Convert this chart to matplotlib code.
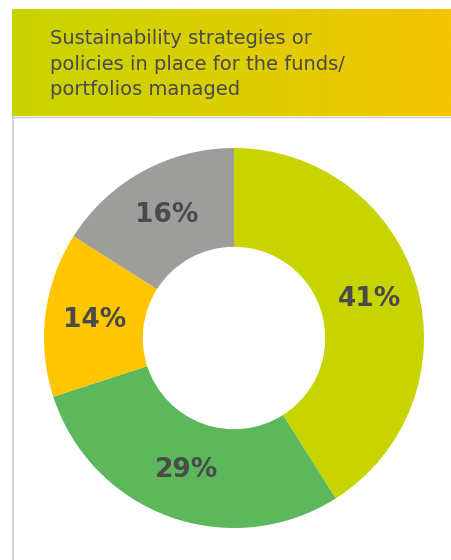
import matplotlib.pyplot as plt
import numpy as np
from matplotlib.colors import LinearSegmentedColormap
from matplotlib.lines import Line2D

# donut data, clockwise from 12 o'clock
shares = [41, 29, 14, 16]
share_labels = ['41%', '29%', '14%', '16%']
slice_colors = ['#c8d400', '#5cb85a', '#ffc600', '#9d9d9c']
title = 'Sustainability strategies or\npolicies in place for the funds/\nportfolios managed'

W, H = 451, 560
fig = plt.figure(figsize=(W / 100, H / 100), dpi=100)
fig.patch.set_facecolor('white')

# header band with horizontal gradient
hdr = fig.add_axes([12 / W, (H - 116) / H, (W - 12) / W, 107 / H])
grad = LinearSegmentedColormap.from_list('hdr', ['#c8d300', '#dccf00', '#f5c500'])
hdr.imshow(np.linspace(0, 1, 256).reshape(1, -1), aspect='auto', cmap=grad,
           extent=[0, 1, 0, 1])
hdr.set_xlim(0, 1)
hdr.set_ylim(0, 1)
hdr.axis('off')
hdr.text(38 / (W - 12), 0.81, title, ha='left', va='top', fontsize=14,
         color='#4a4a4a', linespacing=1.42, family='DejaVu Sans')

# thin gray frame lines (left and under header)
fig.add_artist(Line2D([12.5 / W, 12.5 / W], [0, (H - 116) / H], color='#c8c8c8', lw=1.2))
fig.add_artist(Line2D([12 / W, 1], [(H - 116.5) / H] * 2, color='#c8c8c8', lw=1.0))

# donut
cx, cy, r = 234, 338, 190
ax = fig.add_axes([(cx - r) / W, (H - cy - r) / H, 2 * r / W, 2 * r / H])
wedges, texts = ax.pie(shares, colors=slice_colors, startangle=90, counterclock=False,
                       radius=1.0, wedgeprops=dict(width=0.52, linewidth=0),
                       labels=share_labels, labeldistance=0.74)
for t in texts:
    t.set_ha('center')
    t.set_va('center')
    t.set_fontsize(19)
    t.set_fontweight('bold')
    t.set_color('#4a4a4a')
ax.set_xlim(-1, 1)
ax.set_ylim(-1, 1)
ax.set_aspect('equal')
ax.axis('off')

fig.savefig('out.png', dpi=100, facecolor='white')
